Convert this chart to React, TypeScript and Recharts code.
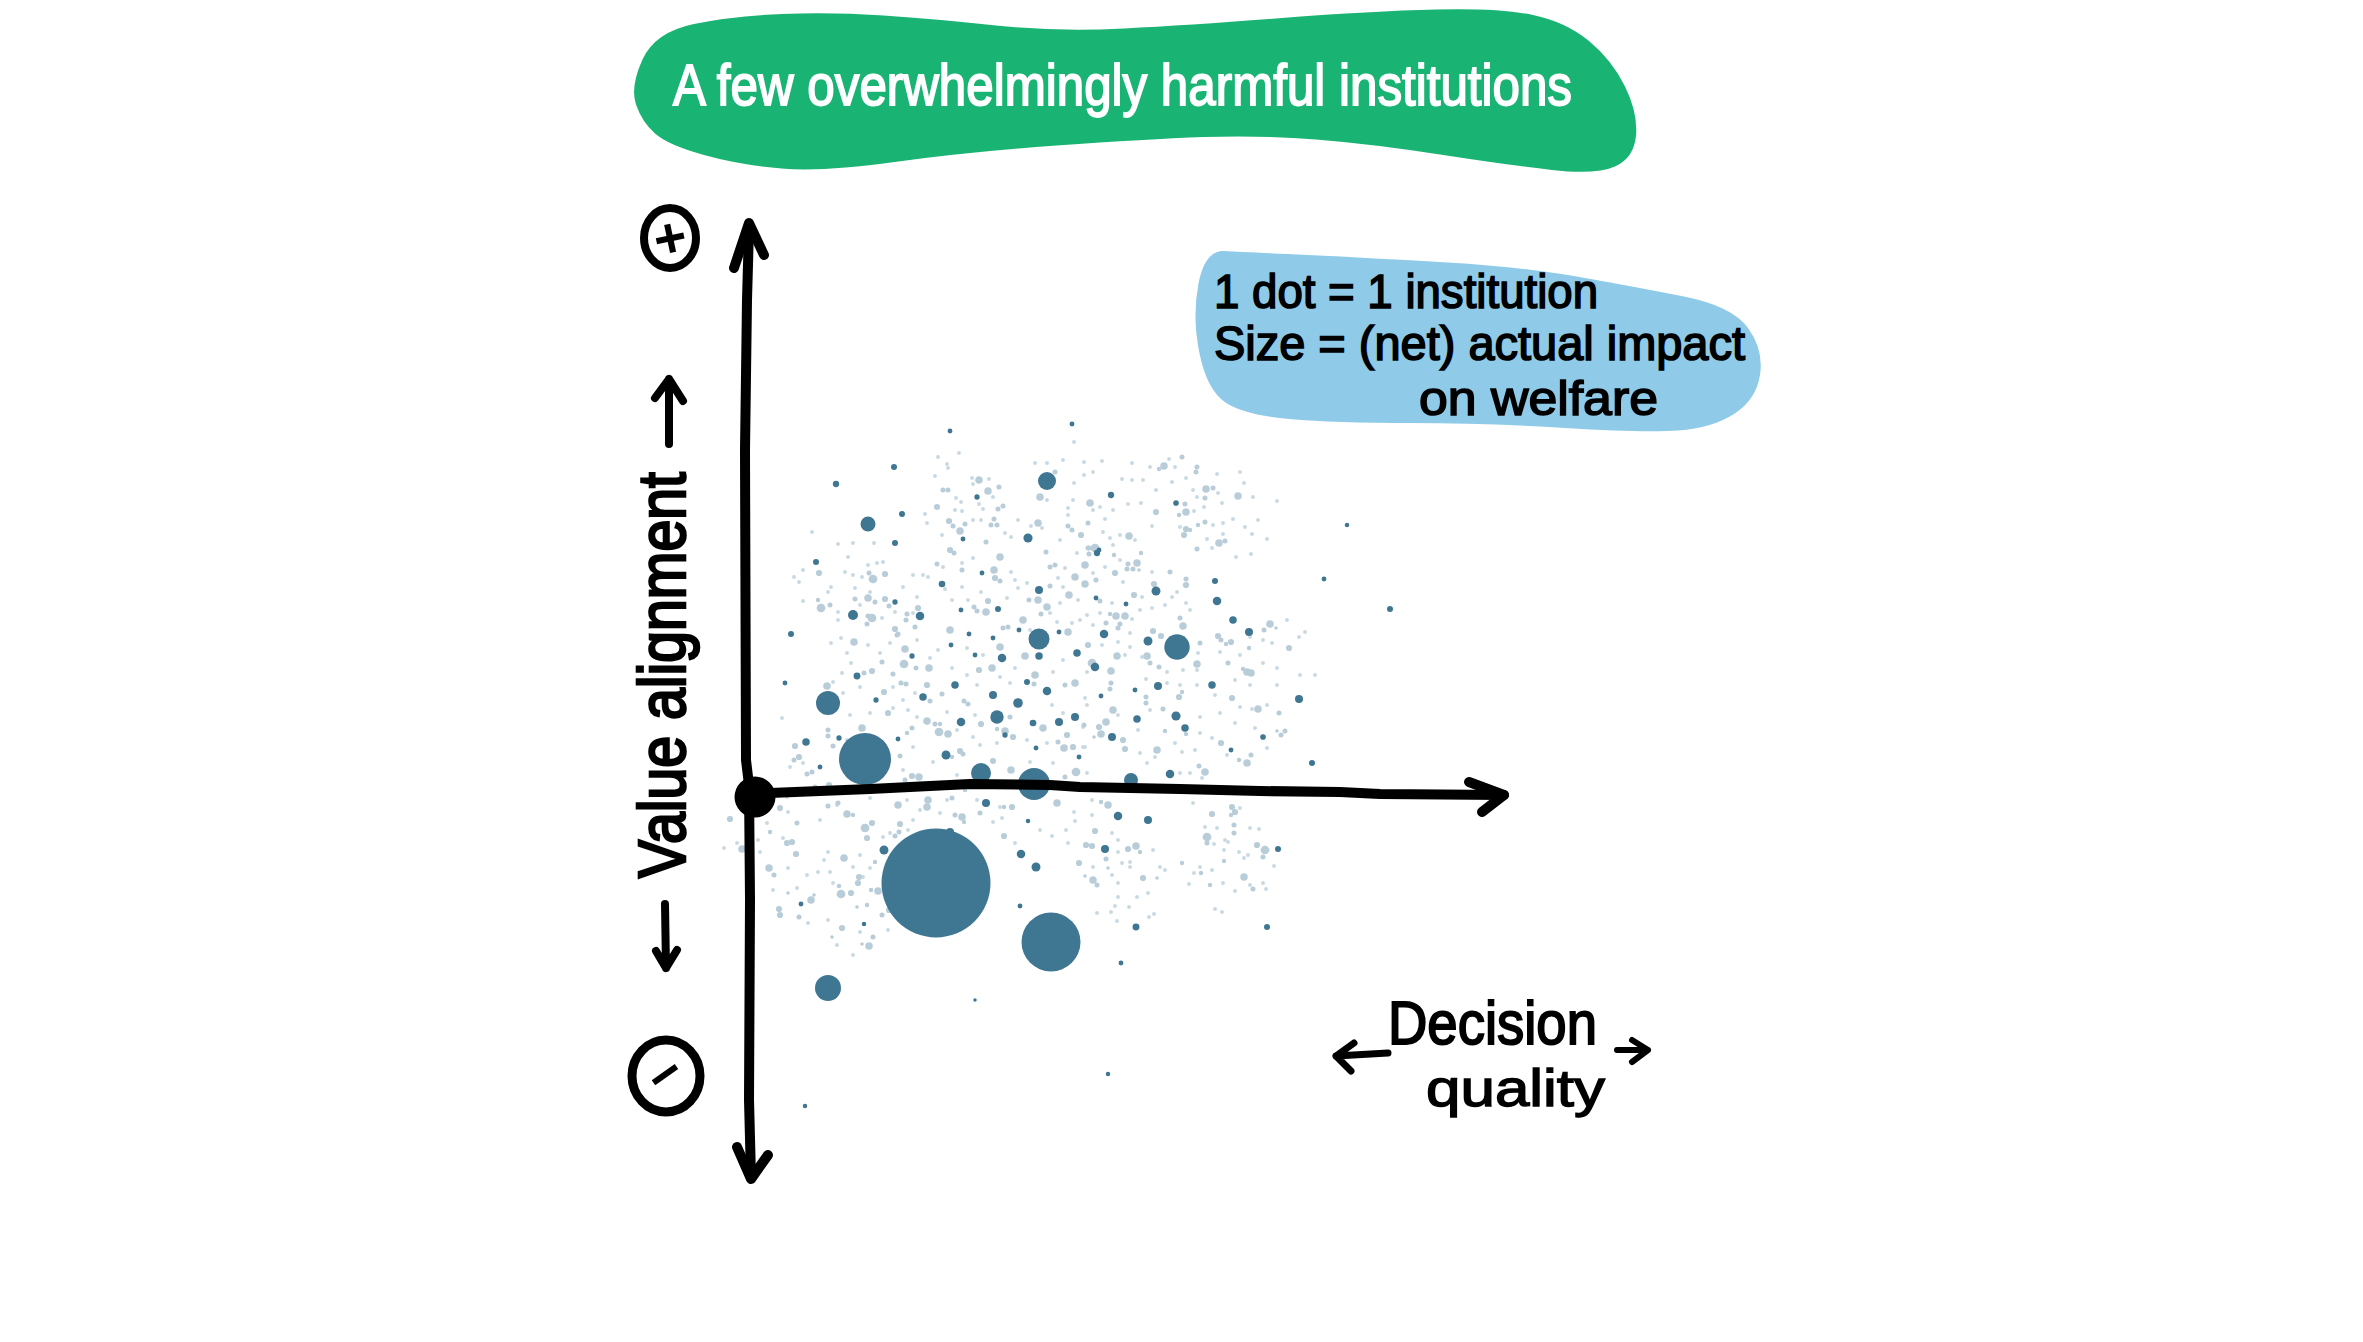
import React from 'react';
import { ScatterChart, Scatter, XAxis, YAxis, ZAxis } from 'recharts';

// every dot is [decision quality, value alignment, impact]; origin is where the two hand-drawn axes cross
const institutions: number[][] = [
  [81,313,10],[139,330,9],[113,273,56],[147,283,9],[140,254,9],[61,235,9],[187,213,11],[208,258,6],[222,300,7],[292,316,81],
  [273,259,21],[227,224,6],[140,195,7],[98,182,25],[165,181,18],[206,187,6],[243,188,9],[284,207,16],[36,163,9],[214,163,6],
  [264,167,6],[304,165,6],[284,158,110],[238,159,6],[356,302,10],[421,294,8],[592,272,5],[569,218,6],[635,188,9],[342,244,10],
  [344,247,6],[460,216,9],[401,206,20],[462,196,18],[341,199,6],[371,193,6],[478,177,14],[494,165,16],[349,163,18],[393,156,20],
  [422,150,161],[196,152,6],[157,141,7],[220,142,6],[247,139,18],[284,141,14],[322,144,14],[102,121,12],[30,114,6],[200,112,14],
  [272,115,9],[168,100,14],[238,102,16],[292,106,18],[121,97,7],[73,94,144],[263,94,23],[242,80,45],[206,75,18],[278,74,11],
  [304,75,16],[320,80,16],[250,62,7],[84,59,7],[51,55,14],[143,58,6],[281,49,6],[110,38,676],[191,42,20],[65,30,6],
  [324,40,6],[226,24,100],[279,13,256],[231,-6,16],[340,130,18],[457,112,14],[403,111,16],[380,107,6],[346,101,6],[544,98,16],
  [382,78,14],[421,81,21],[430,69,14],[357,60,16],[508,60,8],[476,47,6],[557,34,9],[376,17,49],[415,23,18],[273,-24,5],
  [181,-86,2970],[195,-35,16],[129,-53,20],[266,-57,18],[281,-70,20],[46,-107,6],[265,-109,6],[109,-127,5],[296,-145,870],[363,-19,18],
  [393,-23,16],[350,-52,16],[523,-52,9],[381,-130,12],[512,-130,9],[366,-166,6],[73,-191,169],[220,-203,3],[353,-277,5],[50,-309,5],
  [195,366,6],[317,373,6],
];

const paleDots: number[][] = [
  [224,317,9],[233,306,9],[193,307,4],[188,307,4],[182,290,6],[244,310,4],[285,300,9],[300,325,4],[194,276,6],[205,266,9],
  [243,288,4],[248,291,4],[283,274,9],[239,278,4],[236,272,4],[242,272,4],[210,273,4],[198,271,4],[195,247,6],[199,244,4],
  [245,240,9],[231,255,4],[182,233,4],[239,227,9],[240,219,6],[245,216,4],[207,227,4],[64,224,6],[118,218,12],[130,223,6],
  [114,224,4],[113,199,9],[100,198,4],[130,198,6],[120,195,4],[66,189,12],[75,192,4],[63,197,3],[117,179,12],[113,181,4],
  [152,183,4],[151,177,4],[163,189,6],[134,191,4],[233,196,6],[219,190,4],[222,186,4],[231,185,9],[292,190,9],[283,197,9],
  [286,183,4],[268,177,9],[195,167,9],[295,230,4],[300,232,4],[330,232,9],[320,220,9],[330,213,9],[314,202,9],[326,262,6],
  [313,271,4],[317,267,4],[291,245,4],[333,249,4],[313,165,9],[295,211,4],[274,197,4],[248,169,4],[253,170,4],[140,168,6],
  [143,163,4],[160,170,4],[112,173,4],[409,331,9],[427,340,4],[442,330,4],[441,325,4],[404,328,3],[335,294,9],[451,308,9],
  [458,309,4],[450,299,4],[483,301,9],[430,293,4],[431,285,9],[401,285,6],[424,282,3],[333,274,4],[450,275,4],[443,272,3],
  [431,268,6],[435,267,3],[429,262,6],[374,261,9],[464,254,9],[470,256,4],[442,248,4],[340,249,12],[334,249,4],[334,243,4],
  [359,242,3],[386,244,3],[382,234,9],[373,233,4],[372,228,4],[378,228,4],[384,227,2],[360,224,6],[415,225,4],[341,217,4],
  [399,213,6],[431,218,4],[431,212,6],[345,196,4],[379,202,6],[361,181,9],[370,181,9],[365,173,4],[363,169,4],[355,183,3],
  [351,174,4],[428,171,9],[425,179,4],[398,166,6],[406,161,6],[515,173,9],[509,167,4],[521,169,2],[463,161,6],[99,155,9],
  [150,148,9],[142,162,4],[149,133,12],[127,135,4],[117,126,6],[109,124,4],[138,123,4],[174,129,9],[161,129,4],[146,114,4],
  [72,111,9],[129,105,6],[151,113,4],[172,112,6],[187,103,4],[175,96,4],[209,96,4],[213,93,4],[237,129,9],[245,150,9],
  [224,127,6],[270,141,9],[280,122,9],[320,114,9],[310,112,4],[279,113,4],[133,84,6],[172,76,9],[107,69,9],[73,67,4],
  [73,61,4],[40,51,6],[78,51,4],[184,65,12],[193,63,9],[180,73,4],[185,73,3],[226,73,6],[242,68,3],[250,66,9],
  [258,60,6],[288,69,9],[255,80,4],[309,49,9],[312,62,6],[303,55,4],[318,50,6],[329,72,4],[145,41,4],[157,69,4],
  [152,64,3],[205,46,6],[208,43,4],[197,40,3],[44,40,6],[39,37,4],[57,25,4],[52,23,4],[256,27,9],[238,36,6],
  [321,25,12],[310,20,4],[164,20,9],[157,21,6],[150,17,4],[74,12,6],[60,10,4],[210,7,3],[173,-3,9],[172,-10,9],
  [143,-8,9],[197,-1,4],[302,-6,9],[257,-10,6],[25,-11,6],[83,-6,4],[333,152,6],[362,141,9],[392,141,9],[356,126,9],
  [337,134,12],[442,133,9],[404,130,4],[395,134,4],[466,157,4],[476,155,6],[471,153,3],[534,149,6],[445,154,4],[494,149,3],
  [473,134,4],[492,125,9],[496,124,9],[488,128,3],[356,114,4],[355,108,4],[424,100,6],[427,105,3],[391,100,4],[391,94,4],
  [477,99,6],[503,88,9],[358,87,9],[351,75,9],[344,70,6],[346,63,9],[339,60,2],[368,57,6],[370,48,6],[408,88,4],
  [410,66,3],[431,63,3],[402,47,9],[466,54,6],[524,84,4],[530,66,4],[526,62,4],[522,66,2],[492,34,9],[496,42,4],
  [484,37,3],[444,31,4],[450,25,9],[353,-8,9],[346,-5,3],[477,-10,6],[-25,-22,6],[-13,-52,9],[42,-26,4],[15,-35,3],
  [32,-46,6],[37,-45,6],[41,-57,6],[14,-71,9],[19,-78,4],[92,-17,9],[98,-18,3],[73,-9,4],[110,-31,12],[117,-26,6],
  [112,-41,6],[145,-27,6],[144,-35,4],[140,-39,4],[89,-61,9],[120,-65,3],[104,-80,6],[103,-86,6],[123,-94,9],[86,-97,12],
  [96,-96,6],[84,-89,3],[116,-93,3],[56,-103,9],[59,-98,2],[24,-112,6],[25,-118,6],[44,-120,4],[33,-96,2],[134,-113,6],
  [127,-118,4],[112,-108,3],[102,-110,2],[87,-131,6],[118,-140,4],[114,-149,9],[107,-147,2],[77,-140,2],[207,-20,9],[200,-18,4],
  [249,-10,3],[249,-39,6],[209,-25,3],[225,-16,4],[340,-34,6],[331,-48,6],[337,-49,6],[324,-66,6],[351,-62,4],[381,-49,9],
  [373,-52,6],[385,-55,3],[338,-83,9],[342,-88,4],[330,-79,2],[353,-71,2],[388,-81,6],[402,-81,2],[427,-66,3],[457,-17,6],
  [480,-15,6],[476,-18,3],[479,-28,4],[479,-36,4],[452,-40,12],[452,-46,4],[502,-48,6],[510,-53,12],[508,-60,4],[489,-80,9],
  [446,-76,3],[455,-88,3],[498,-92,4],[469,-64,3],
];

// the smallest, faintest specks, all the same impact
const speckImpact = 2.4;
const specks: number[][] = [
  [204,344],[183,340],[193,329],[180,321],[192,333],[217,319],[218,313],[234,318],[201,299],[206,295],[200,287],[207,286],[224,293],[228,288],[238,300],
  [170,283],[172,274],[187,262],[218,277],[226,277],[256,260],[250,264],[263,277],[276,271],[287,269],[292,297],[308,337],[319,314],[318,297],[334,294],
  [313,289],[313,282],[305,257],[322,244],[310,229],[303,219],[292,334],[280,334],[319,355],[158,222],[168,222],[148,210],[162,200],[128,235],[122,234],
  [113,232],[98,254],[83,253],[119,254],[93,240],[57,265],[48,227],[39,220],[44,215],[90,225],[98,222],[107,220],[76,210],[73,205],[100,209],
  [115,205],[48,196],[83,185],[83,177],[105,192],[127,179],[140,185],[158,184],[190,208],[207,210],[226,205],[197,197],[213,197],[252,199],[263,209],
  [272,214],[260,217],[256,225],[218,239],[207,234],[188,230],[173,220],[308,210],[323,197],[305,194],[295,184],[325,177],[317,174],[302,175],[275,167],
  [329,335],[338,325],[347,336],[377,334],[377,317],[367,318],[329,322],[414,338],[420,330],[395,330],[417,315],[431,319],[438,307],[442,300],[401,307],
  [388,317],[373,293],[386,294],[358,287],[345,290],[338,287],[350,278],[397,271],[425,270],[462,323],[463,304],[467,294],[449,290],[439,286],[458,272],
  [478,278],[468,274],[452,258],[468,263],[490,270],[498,300],[522,296],[503,277],[485,325],[489,314],[497,263],[512,258],[496,243],[481,240],[457,249],
  [358,252],[365,262],[380,257],[348,265],[355,259],[365,237],[350,230],[338,224],[368,215],[387,200],[397,225],[422,205],[417,200],[410,192],[397,189],
  [435,187],[431,194],[385,187],[377,178],[357,194],[345,184],[332,182],[338,172],[375,164],[532,177],[550,165],[544,160],[86,159],[76,154],[113,152],
  [96,134],[92,144],[135,154],[125,144],[162,157],[183,147],[212,149],[228,142],[260,129],[175,139],[197,129],[212,122],[245,120],[222,112],[308,137],
  [298,125],[332,125],[87,124],[78,115],[88,104],[105,110],[138,110],[148,97],[160,104],[192,85],[220,82],[255,114],[297,92],[308,84],[330,99],
  [95,82],[27,79],[115,84],[138,89],[153,87],[162,80],[202,67],[218,60],[225,52],[242,54],[272,57],[292,54],[330,50],[48,34],[35,30],
  [95,45],[92,57],[122,45],[130,32],[158,50],[178,35],[202,22],[115,24],[148,27],[275,35],[298,34],[332,24],[32,0],[115,-1],[152,-3],
  [192,-3],[222,-3],[245,-10],[347,152],[370,142],[375,150],[363,155],[387,140],[508,157],[517,154],[495,160],[465,145],[485,142],[508,134],[522,129],
  [443,144],[442,127],[412,125],[428,127],[391,118],[412,114],[442,112],[480,117],[495,112],[522,112],[545,122],[560,122],[460,102],[485,90],[497,88],
  [512,92],[465,84],[445,80],[425,112],[395,87],[383,67],[420,54],[445,64],[480,74],[500,69],[512,49],[427,45],[440,47],[457,59],[472,42],
  [332,92],[328,70],[363,82],[328,50],[385,44],[400,40],[435,24],[447,19],[425,24],[392,34],[337,-3],[438,-6],[485,-11],[3,-43],[12,-26],
  [33,-15],[-31,-51],[-18,-46],[5,-55],[28,-41],[65,-23],[82,-8],[73,-55],[63,-75],[52,-78],[42,-91],[33,-71],[18,-93],[75,-75],[78,-86],
  [69,-63],[98,-70],[115,-71],[108,-80],[128,-40],[135,-36],[105,-58],[165,-13],[185,-16],[158,-23],[153,-33],[238,-25],[260,-46],[285,-33],[247,-21],
  [73,-123],[105,-135],[98,-158],[133,-133],[82,-148],[53,-126],[319,-15],[337,-18],[320,-24],[297,-39],[313,-46],[311,-33],[357,-36],[363,-43],[338,-70],
  [363,-55],[375,-65],[398,-53],[375,-70],[367,-66],[363,-86],[382,-100],[393,-96],[410,-73],[405,-70],[357,-78],[363,-100],[360,-109],[374,-110],[356,-115],
  [342,-116],[362,-124],[399,-117],[394,-120],[439,-76],[445,-70],[434,-87],[457,-73],[462,-31],[450,-30],[459,-47],[470,-43],[473,-45],[469,-53],[484,-55],
  [493,-58],[489,-61],[495,-31],[504,-32],[519,-69],[511,-92],[508,-86],[495,-88],[480,-94],[468,-86],[460,-112],[467,-115],
];

const originDot = [[0, 0, 420]];

// hand-drawn axes, read along the stroke
const xAxisStroke = [[15,4],[115,8],[215,13],[295,12],[325,10],[425,8],[505,6],[585,5],[625,3],[749,2]];
const xArrowHead = [[714,15],[749,2],[727,-15]];
const yAxisStroke = [[-6,568],[-8,497],[-10,347],[-9,37],[-6,12],[-5,-103],[-6,-303],[-4,-380]];
const yTopHead = [[-21,529],[-6,574],[9,542]];
const yBottomHead = [[-18,-350],[-4,-382],[13,-358]];

const toPoints = (rows: number[][], impact = 0) =>
  rows.map(([quality, alignment, z]) => ({ quality, alignment, impact: z ?? impact }));

// banner outlines, traced
const greenBlob = [[630,87],[655,32],[733,16],[831,12],[936,19],[1056,32],[1192,25],[1372,11],[1500,8],[1566,22],[1612,60],[1638,113],[1634,158],[1596,175],[1508,165],[1372,144],[1260,135],[1147,139],[966,152],[823,172],[740,165],[668,145],[642,122]];
const blueBlob = [[1192,317],[1205,250],[1244,252],[1372,258],[1523,267],[1636,287],[1732,306],[1764,350],[1756,400],[1712,428],[1645,433],[1485,423],[1335,423],[1244,415],[1207,390]];

const blobPath = (pts: number[][]) => {
  const mid = (a: number[], b: number[]) => [(a[0] + b[0]) / 2, (a[1] + b[1]) / 2];
  const start = mid(pts[pts.length - 1], pts[0]);
  let d = `M${start[0]},${start[1]}`;
  pts.forEach((p, i) => {
    const m = mid(p, pts[(i + 1) % pts.length]);
    d += ` Q${p[0]},${p[1]} ${m[0]},${m[1]}`;
  });
  return d + ' Z';
};

const handFont = '"Liberation Sans Narrow", "Liberation Sans", sans-serif';

const Hand = ({ x, y, size, len, fill = '#000', weight = 1.6, children, transform }: any) => (
  <text
    x={x}
    y={y}
    fontSize={size}
    fontFamily={handFont}
    fill={fill}
    stroke={fill}
    strokeWidth={weight}
    textLength={len}
    lengthAdjust="spacingAndGlyphs"
    transform={transform}
  >
    {children}
  </text>
);

const inkStroke = { fill: 'none', stroke: '#000', strokeLinecap: 'round', strokeLinejoin: 'round' } as const;

const Annotations = () => (
  <svg width={2363} height={1342} style={{ position: 'absolute', left: 0, top: 0 }}>
    <path d={blobPath(greenBlob)} fill="#19b373" />
    <path d={blobPath(blueBlob)} fill="#8fcbe8" />
    <Hand x={673} y={105} size={58} len={899} fill="#fff" weight={1.8}>A few overwhelmingly harmful institutions</Hand>
    <Hand x={1214} y={308} size={48} len={384}>1 dot = 1 institution</Hand>
    <Hand x={1214} y={360} size={48} len={531}>Size = (net) actual impact</Hand>
    <Hand x={1419} y={415} size={48} len={239}>on welfare</Hand>
    <Hand x={1388} y={1044} size={62} len={209} weight={2}>Decision</Hand>
    <Hand x={1426} y={1106} size={52} len={179} weight={1.4}>quality</Hand>
    <Hand x={685} y={878} size={66} len={406} weight={2.6} transform="rotate(-90 685 878)">Value alignment</Hand>

    <ellipse cx={670} cy={238} rx={26} ry={30} {...inkStroke} strokeWidth={8} />
    <text x={670} y={257} fontSize={56} fontFamily={handFont} fontWeight="bold" textAnchor="middle" transform="rotate(-12 670 238)">+</text>
    <ellipse cx={666} cy={1076} rx={34} ry={36} {...inkStroke} strokeWidth={9} />
    <text x={666} y={1093} fontSize={56} fontFamily={handFont} fontWeight="bold" textAnchor="middle" transform="rotate(-35 666 1076)">−</text>

    <path d="M669,444 L669,379 M655,398 L669,379 L683,401" {...inkStroke} strokeWidth={8} />
    <path d="M665,904 L666,968 M656,951 L666,968 L677,950" {...inkStroke} strokeWidth={8} />
    <path d="M1388,1053 L1336,1056 M1354,1043 L1336,1056 L1351,1071" {...inkStroke} strokeWidth={7} />
    <path d="M1617,1050 L1648,1050 M1632,1040 L1648,1050 L1632,1062" {...inkStroke} strokeWidth={6} />
  </svg>
);

const axisLine = { stroke: '#000', strokeWidth: 10, strokeLinecap: 'round', strokeLinejoin: 'round', fill: 'none' };
const noSymbol = () => <g />;

const App = () => (
  <div style={{ position: 'absolute', left: 0, top: 0, width: 2363, height: 1342, background: '#fff' }}>
    <Annotations />
    <div style={{ position: 'absolute', left: 0, top: 0 }}>
      <ScatterChart width={2363} height={1342} margin={{ top: 0, right: 0, bottom: 0, left: 0 }}>
        <XAxis type="number" dataKey="quality" domain={[-755, 1608]} hide allowDataOverflow />
        <YAxis type="number" dataKey="alignment" domain={[-545, 797]} hide allowDataOverflow />
        <ZAxis type="number" dataKey="impact" domain={[0, 3000]} range={[0, 9425]} />
        <ZAxis zAxisId="faint" type="number" dataKey="impact" domain={[0, 3000]} range={[0, 15000]} />
        <Scatter data={toPoints(specks, speckImpact)} zAxisId="faint" fill="#c9d9e2" isAnimationActive={false} />
        <Scatter data={toPoints(paleDots)} zAxisId="faint" fill="#b9cdd9" isAnimationActive={false} />
        <Scatter data={toPoints(institutions)} fill="#3f7692" isAnimationActive={false} />
        <Scatter data={toPoints(xAxisStroke)} line={axisLine} shape={noSymbol} isAnimationActive={false} />
        <Scatter data={toPoints(xArrowHead)} line={axisLine} shape={noSymbol} isAnimationActive={false} />
        <Scatter data={toPoints(yAxisStroke)} line={axisLine} shape={noSymbol} isAnimationActive={false} />
        <Scatter data={toPoints(yTopHead)} line={axisLine} shape={noSymbol} isAnimationActive={false} />
        <Scatter data={toPoints(yBottomHead)} line={axisLine} shape={noSymbol} isAnimationActive={false} />
        <Scatter data={toPoints(originDot)} fill="#000" isAnimationActive={false} />
      </ScatterChart>
    </div>
  </div>
);

export default App;
